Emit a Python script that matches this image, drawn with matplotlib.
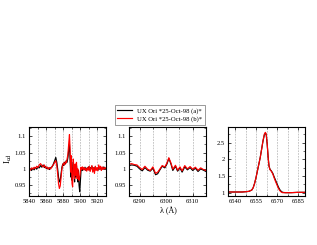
#!/usr/bin/env python3
# -*- coding: utf-8 -*-
"""
UX Ori spectra, two epochs: NaD, [OI] 6300 and Halpha windows.
"""

import matplotlib
matplotlib.use("Agg")
import matplotlib.pyplot as plt
from matplotlib.ticker import MultipleLocator

plt.rcParams["font.family"] = ["Liberation Serif", "DejaVu Serif"]
plt.rcParams["mathtext.fontset"] = "stix"

LABELS = ["UX Ori *25-Oct-98 (a)*", "UX Ori *25-Oct-98 (b)*"]
COLORS = ["k", "r"]

# --- NaD window
nad_wl_a = [5840, 5841.5, 5843, 5844.5, 5846, 5847.5, 5849, 5850.5, 5852, 5853.5,
            5855, 5856.5, 5858, 5859.5, 5861, 5862.5, 5864, 5865.5, 5867, 5868.5,
            5870, 5871.3, 5872.5, 5873.5, 5874.5, 5875.5, 5876.5, 5877.5, 5878.5, 5879.5,
            5880.5, 5881.5, 5882.5, 5883.5, 5884.5, 5885.5, 5886.5, 5887.3, 5888, 5888.8,
            5889.5, 5890.3, 5891, 5891.8, 5892.5, 5893.3, 5894, 5894.8, 5895.5, 5896.3,
            5897, 5897.8, 5898.5, 5899.3, 5900, 5900.8, 5901.5, 5902.5, 5903.5, 5904.5,
            5905.5, 5906.5, 5907.5, 5908.5, 5909.5, 5910.5, 5911.5, 5912.5, 5913.5, 5914.5,
            5915.5, 5916.5, 5917.5, 5918.5, 5919.5, 5920.5, 5921.5, 5922.5, 5923.5, 5924.5,
            5925.5, 5926.5, 5927.5, 5928.5, 5930]
nad_a = [0.998, 1.000, 0.995, 1.002, 0.997, 1.004, 0.999, 1.006, 1.003, 1.010,
         1.005, 1.012, 1.004, 1.007, 1.000, 1.003, 0.998, 1.004, 1.006, 1.015,
         1.025, 1.035, 1.020, 1.000, 0.975, 0.960, 0.965, 0.985, 1.005, 1.015,
         1.010, 1.020, 1.015, 1.025, 1.020, 1.035, 1.060, 1.075, 1.030, 0.975,
         1.010, 0.965, 1.000, 1.020, 0.985, 0.960, 1.000, 0.975, 1.010, 0.985,
         0.960, 0.995, 0.950, 0.930, 0.960, 0.995, 1.000, 0.995, 1.003, 0.998,
         1.005, 0.995, 1.002, 0.998, 1.006, 0.997, 1.004, 1.000, 1.008, 0.996,
         1.003, 0.999, 1.006, 0.998, 1.002, 0.996, 1.004, 0.999, 1.005, 0.997,
         1.003, 0.999, 1.006, 1.000, 1.002]
nad_wl_b = nad_wl_a
nad_b = [1.000, 0.996, 1.003, 0.999, 1.005, 1.001, 1.008, 1.004, 1.012, 1.016,
         1.010, 1.006, 1.012, 1.002, 1.006, 0.999, 1.004, 1.000, 1.008, 1.012,
         1.020, 1.025, 1.010, 0.985, 0.955, 0.940, 0.948, 0.975, 1.000, 1.012,
         1.018, 1.012, 1.022, 1.018, 1.030, 1.045, 1.080, 1.105, 1.060, 0.990,
         1.040, 0.955, 0.945, 1.030, 0.995, 0.970, 1.015, 0.980, 1.020, 0.970,
         1.000, 0.980, 0.965, 0.975, 0.990, 1.005, 0.998, 1.006, 0.997, 1.004,
         0.996, 1.002, 0.993, 1.004, 0.996, 1.008, 0.992, 1.002, 1.010, 0.990,
         1.004, 0.986, 1.008, 0.995, 1.004, 0.994, 1.012, 1.000, 1.008, 0.995,
         1.006, 0.998, 1.004, 1.000, 1.004]

# --- [OI] 6300 window
oi_wl = [6286, 6287, 6288, 6289, 6290, 6291, 6292, 6293, 6294, 6295,
         6296, 6296.8, 6297.5, 6298.5, 6299.5, 6300.3, 6301, 6301.8, 6302.5, 6303.5,
         6304.3, 6305.2, 6306, 6307, 6308, 6309, 6310, 6311, 6312, 6313,
         6314, 6315]
oi_a = [1.010, 1.012, 1.011, 1.008, 1.000, 0.994, 1.004, 0.996, 0.993, 1.002,
        0.982, 0.985, 0.995, 1.008, 1.003, 1.015, 1.032, 1.015, 0.995, 1.008,
        0.993, 1.003, 0.990, 1.006, 0.997, 1.004, 0.995, 1.002, 0.992, 1.000,
        0.996, 0.992]
oi_b = [1.014, 1.016, 1.013, 1.012, 1.004, 0.998, 1.008, 0.999, 0.995, 1.006,
        0.986, 0.990, 0.998, 1.010, 1.006, 1.018, 1.034, 1.018, 0.999, 1.011,
        0.996, 1.006, 0.994, 1.010, 1.000, 1.007, 0.999, 1.005, 0.996, 1.003,
        0.998, 0.995]

# --- Halpha window
ha_wl = [6535, 6540, 6545, 6548, 6550, 6552, 6553, 6554, 6555, 6556,
         6557, 6558, 6559, 6560, 6561, 6561.7, 6562.3, 6563, 6563.7, 6564.3,
         6565, 6566, 6567, 6568, 6569, 6570, 6571, 6572, 6573, 6574,
         6576, 6580, 6585, 6590]
ha_a = [1.02, 1.02, 1.02, 1.03, 1.04, 1.08, 1.15, 1.28, 1.45, 1.65,
        1.85, 2.05, 2.30, 2.55, 2.74, 2.79, 2.74, 2.45, 2.05, 1.80,
        1.70, 1.65, 1.58, 1.47, 1.37, 1.27, 1.17, 1.09, 1.04, 1.01,
        1.00, 1.00, 1.01, 1.01]
ha_b = [1.02, 1.02, 1.02, 1.03, 1.04, 1.08, 1.15, 1.28, 1.45, 1.65,
        1.85, 2.05, 2.30, 2.56, 2.76, 2.81, 2.76, 2.46, 2.05, 1.79,
        1.69, 1.64, 1.56, 1.44, 1.33, 1.23, 1.13, 1.06, 1.02, 1.00,
        1.00, 1.00, 1.01, 1.01]

PANELS = [
    # (wl_a, flux_a, wl_b, flux_b, xlim, ylim, xmajor, ymajor)
    (nad_wl_a, nad_a, nad_wl_b, nad_b, (5840, 5930), (0.917, 1.128), 20, 0.05),
    (oi_wl, oi_a, oi_wl, oi_b, (6286, 6315), (0.917, 1.128), 10, 0.05),
    (ha_wl, ha_a, ha_wl, ha_b, (6535, 6590), (0.9, 2.97), 15, 0.5),
]

W, H = 317, 245
LEFTS = [29, 129, 228]


def style_axis(ax, xlim, ylim, xmajor, ymajor):
    ax.set_xlim(*xlim)
    ax.set_ylim(*ylim)
    ax.xaxis.set_major_locator(MultipleLocator(xmajor))
    ax.xaxis.set_minor_locator(MultipleLocator(xmajor / 2.0))
    ax.yaxis.set_major_locator(MultipleLocator(ymajor))
    ax.yaxis.set_minor_locator(MultipleLocator(ymajor / 2.0))
    ax.tick_params(which="both", direction="in", top=True, right=True, labelsize=4.7, pad=2)
    ax.tick_params(which="major", length=2.2, width=0.5)
    ax.tick_params(which="minor", length=1.2, width=0.4)
    ax.grid(True, which="both", axis="x", color="0.6", ls=(0, (3, 2)), lw=0.4)
    ax.yaxis.set_major_formatter(plt.FuncFormatter(lambda v, p: "%g" % round(v, 3)))
    for s in ax.spines.values():
        s.set_linewidth(0.8)


fig = plt.figure(figsize=(W / 100.0, H / 100.0), dpi=100)
handles = []
for left, (wa, fa, wb, fb, xlim, ylim, xm, ym) in zip(LEFTS, PANELS):
    ax = fig.add_axes([left / W, 1 - 196.0 / H, 77.0 / W, 69.0 / H])
    la, = ax.plot(wa, fa, color=COLORS[0], lw=0.85)
    lb, = ax.plot(wb, fb, color=COLORS[1], lw=0.85)
    style_axis(ax, xlim, ylim, xm, ym)
    handles = [la, lb]

fig.text(8.0 / W, 1 - 158.0 / H, r"I$_{\rm cd}$", rotation=90, ha="center", va="center", fontsize=6.5)
fig.text(168.0 / W, 1 - 211.0 / H, u"\u03bb (\u00c5)", ha="center", va="center", fontsize=5.8)

leg = fig.legend(handles, LABELS, loc="center", bbox_to_anchor=(160.0 / W, 1 - 115.0 / H),
                 fontsize=4.8, frameon=True, fancybox=False, handlelength=2.2,
                 borderpad=0.4, labelspacing=0.3, handletextpad=0.8)
leg.get_frame().set_edgecolor("0.3")
leg.get_frame().set_linewidth(0.5)

fig.savefig("out.png", dpi=100)
